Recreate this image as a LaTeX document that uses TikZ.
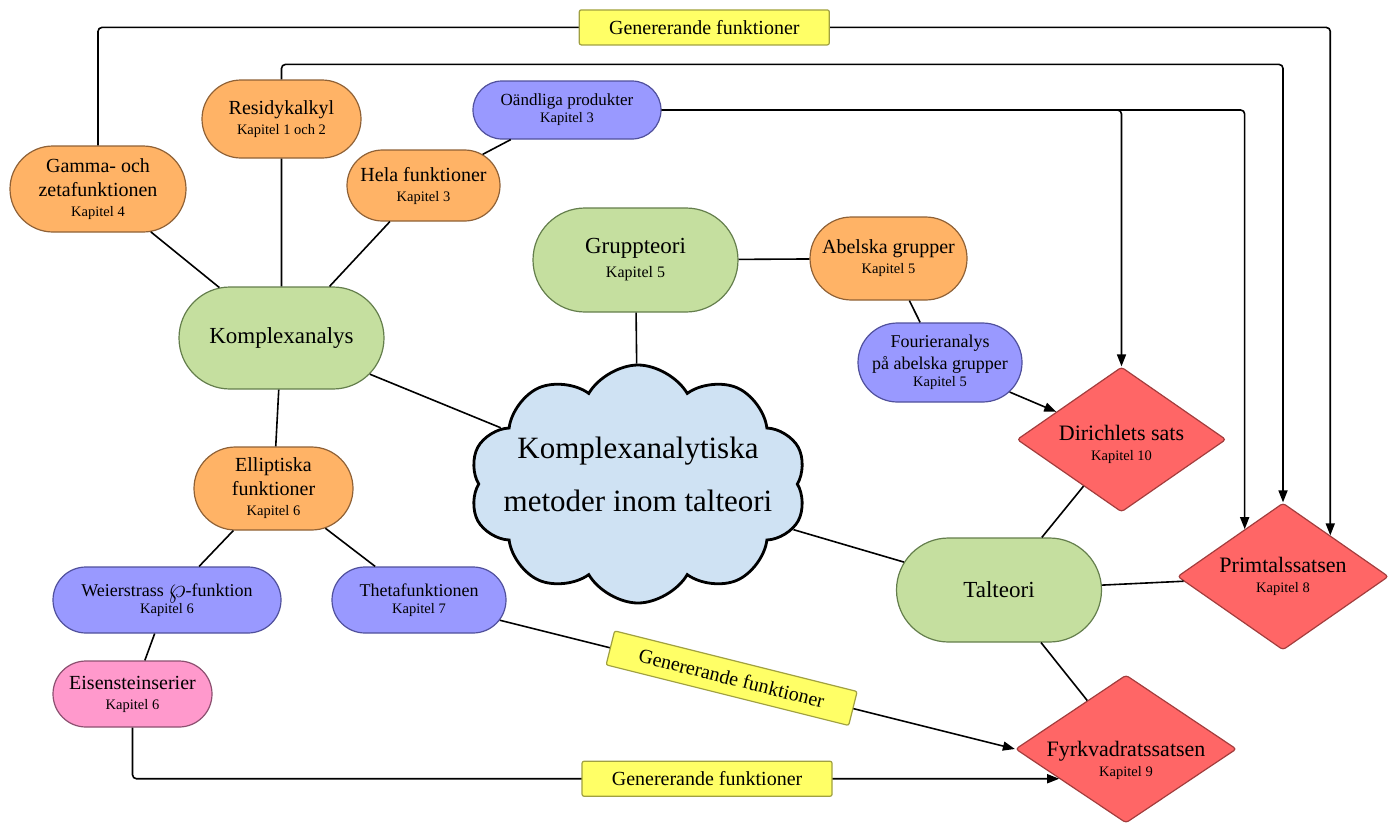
\documentclass[tikz,border=0pt]{standalone}
\usepackage{fontspec}
\setmainfont{Liberation Serif}
\usepackage{graphicx}
\usepackage{tikz}
\usetikzlibrary{arrows.meta}
\usetikzlibrary{shapes}
\definecolor{orangefill}{HTML}{FFB366}
\definecolor{orangeline}{HTML}{8F6136}
\definecolor{greenfill}{HTML}{C5DF9F}
\definecolor{greenline}{HTML}{647E4C}
\definecolor{bluefill}{HTML}{9999FF}
\definecolor{blueline}{HTML}{50509C}
\definecolor{pinkfill}{HTML}{FF99CC}
\definecolor{pinkline}{HTML}{8C5070}
\definecolor{redfill}{HTML}{FF6666}
\definecolor{redline}{HTML}{A33D3D}
\definecolor{yellowfill}{HTML}{FFFF66}
\definecolor{yellowline}{HTML}{A0A040}
\definecolor{cloudfill}{HTML}{CFE2F3}
\newcommand{\kap}[1]{\\[-4pt]{\fontsize{14.5}{16}\selectfont #1}}
\tikzstyle{topic}=[rounded rectangle,draw,line width=1.2pt,align=center,inner sep=1pt,font=\fontsize{20}{24}\selectfont]
\tikzstyle{orangenode}=[topic,fill=orangefill,draw=orangeline]
\tikzstyle{greennode}=[topic,fill=greenfill,draw=greenline,font=\fontsize{23}{26}\selectfont]
\tikzstyle{bluenode}=[topic,fill=bluefill,draw=blueline,font=\fontsize{18}{21.5}\selectfont]
\tikzstyle{pinknode}=[topic,fill=pinkfill,draw=pinkline]
\tikzstyle{theorem}=[diamond,draw=redline,fill=redfill,line width=1.2pt,inner sep=0pt,rounded corners=3pt]
\tikzstyle{thmtext}=[align=center,font=\fontsize{22}{24}\selectfont]
\tikzstyle{genlabel}=[draw=yellowline,fill=yellowfill,rounded corners=2pt,line width=1.2pt,minimum width=250pt,minimum height=35pt,inner sep=0pt,font=\fontsize{20}{22}\selectfont]
\tikzstyle{pil}=[-{Triangle[length=12pt,width=9pt]},rounded corners=4pt]

\begin{document}
\begin{tikzpicture}[x=1pt,y=-1pt,line width=1.6pt]
\useasboundingbox (0,0) rectangle (1388,822);
\node[orangenode,minimum width=178pt,minimum height=86pt] (gamma) at (98,189) {Gamma- och\\zetafunktionen\kap{Kapitel 4}};
\node[orangenode,minimum width=161pt,minimum height=78pt] (resid) at (281.5,119) {Residykalkyl\kap{Kapitel 1 och 2}};
\node[bluenode,minimum width=190pt,minimum height=58pt,font=\fontsize{17}{21}\selectfont] (oandl) at (567,110) {Oändliga produkter\kap{Kapitel 3}};
\node[orangenode,minimum width=155pt,minimum height=71pt] (hela) at (423.5,185.5) {Hela funktioner\kap{Kapitel 3}};
\node[greennode,minimum width=207pt,minimum height=104pt] (grupp) at (635.5,260) {Gruppteori\\[-2pt]{\fontsize{16}{18}\selectfont Kapitel 5}};
\node[orangenode,minimum width=159pt,minimum height=83pt] (abel) at (888.5,258.5) {Abelska grupper\kap{Kapitel 5}};
\node[bluenode,minimum width=166pt,minimum height=79pt] (fourier) at (940,362.5) {Fourieranalys\\på abelska grupper\kap{Kapitel 5}};
\node[greennode,minimum width=207pt,minimum height=102pt] (komplex) at (281.5,338) {Komplexanalys};
\node[cloud,cloud puffs=10,cloud puff arc=120,draw=black,fill=cloudfill,line width=2.8pt,minimum width=337pt,minimum height=238pt,
  label={[font=\fontsize{31}{53}\selectfont,align=center,yshift=10pt]center:Komplexanalytiska\\metoder inom talteori}] (cloud) at (638,484) {};
\node[theorem,minimum width=209pt,minimum height=145pt,label={[thmtext,yshift=-5pt]center:Dirichlets sats\kap{Kapitel 10}}] (dirichlet) at (1121.5,439.5) {};
\node[theorem,minimum width=211pt,minimum height=147pt,label={[thmtext]center:Primtalssatsen\kap{Kapitel 8}}] (primtal) at (1283,576.5) {};
\node[greennode,minimum width=207pt,minimum height=104pt] (talteori) at (999,590) {Talteori};
\node[theorem,minimum width=221pt,minimum height=148pt,label={[thmtext,yshift=-11pt]center:Fyrkvadratssatsen\kap{Kapitel 9}}] (fyrkv) at (1126,749) {};
\node[orangenode,minimum width=161pt,minimum height=83pt] (ellip) at (273.5,488.5) {Elliptiska\\funktioner\kap{Kapitel 6}};
\node[bluenode,minimum width=230pt,minimum height=66pt] (weier) at (167,600) {Weierstrass \raisebox{-1pt}{\scalebox{1.6}{$\wp$}}-funktion\kap{Kapitel 6}};
\node[bluenode,minimum width=176pt,minimum height=66pt] (theta) at (419,600) {Thetafunktionen\kap{Kapitel 7}};
\node[pinknode,minimum width=161pt,minimum height=66pt] (eisen) at (132.5,694) {Eisensteinserier\kap{Kapitel 6}};

\draw (gamma) -- (komplex);
\draw (resid) -- (komplex);
\draw (hela) -- (komplex);
\draw (hela) -- (oandl);
\draw (komplex) -- (cloud);
\draw (komplex) -- (ellip);
\draw (ellip) -- (weier);
\draw (ellip) -- (theta);
\draw (weier) -- (eisen);
\draw (grupp) -- (cloud);
\draw (grupp) -- (abel);
\draw (abel) -- (fourier);
\draw (cloud) -- (talteori);
\draw (dirichlet) -- (talteori);
\draw (talteori) -- (primtal);
\draw (talteori) -- (fyrkv);
\draw[pil] (fourier) -- (dirichlet);
\draw[pil] (theta) -- node[genlabel,sloped,pos=0.45] {Genererande funktioner} (fyrkv.west);
\draw[pil] (eisen.south) |- node[genlabel,pos=0.81] {Genererande funktioner} (fyrkv.204);
\draw[pil] (gamma.north) -- ++(0,-118) -| node[genlabel,pos=0.246] {Genererande funktioner} (primtal.41);
\draw[pil] (resid.north) -- ++(0,-15) -| (primtal.north);
\draw[pil] (oandl.east) -| (primtal.129);
\draw[pil] (oandl.east) -| (dirichlet.north);
\end{tikzpicture}
\end{document}
